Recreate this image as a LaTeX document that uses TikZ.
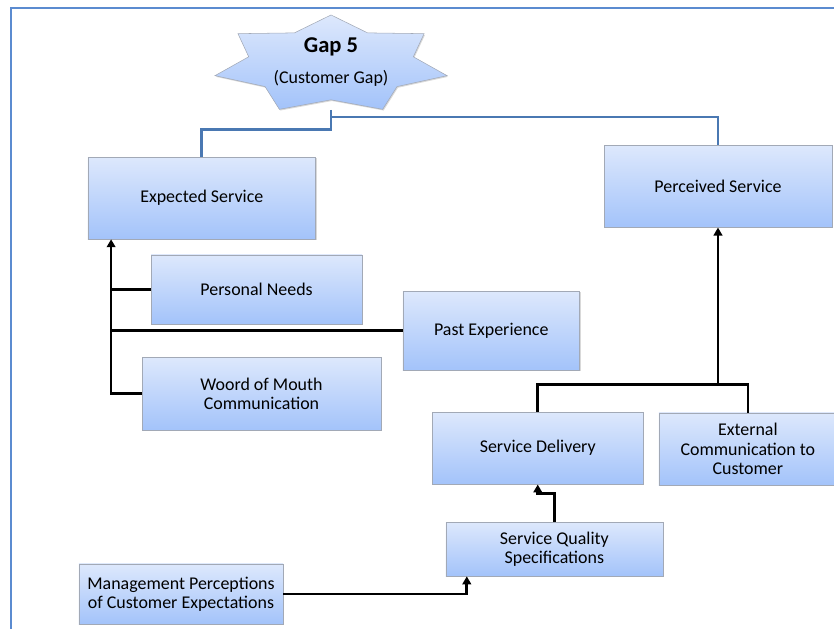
\documentclass[tikz,border=0pt]{standalone}
\usepackage{fontspec}
\setmainfont{Carlito}
\usetikzlibrary{arrows.meta, shapes.geometric, shadows, calc}

\definecolor{boxtop}{HTML}{DDE8FC}
\definecolor{boxbottom}{HTML}{A3C3FA}
\definecolor{boxline}{HTML}{A2A9B6}
\definecolor{gapblue}{HTML}{4A78B2}
\definecolor{frameblue}{HTML}{5B8BD0}

\begin{document}
\begin{tikzpicture}[every text node part/.style={align=center},
    font=\fontsize{13.5}{14.5}\selectfont]

\tikzstyle{box}=[draw=boxline, top color=boxtop, bottom color=boxbottom, inner sep=0pt,
    drop shadow={opacity=0.3, shadow xshift=0.7pt, shadow yshift=-0.9pt}]
\tikzstyle{line}=[draw, line width=2pt]
\tikzstyle{arr}=[draw, line width=2pt, -{Triangle[length=6pt, width=6.5pt]}]
\tikzstyle{gapline}=[draw=gapblue, line width=2pt]

\useasboundingbox (0, 0) rectangle (22.07, 16.62);
\clip (0, 0) rectangle (22.07, 16.62);
\draw [frameblue, line width=1.5pt] (0.29, -1) rectangle (23, 16.42);

% the gap star on top
\node (gapstar) [box, star, star points=7, star point ratio=1.41,
    minimum size=6.3cm, yscale=0.417] at (8.76, 14.91) {};
\node (gaptitle) at (8.76, 15.38) {\fontsize{17}{20}\selectfont\bfseries Gap 5};
\node (gapnote)  at (8.76, 14.54) {(Customer Gap)};

\node (expected)  [box, minimum width=6.03cm, minimum height=2.17cm] at (5.34, 11.38) {Expected Service};
\node (perceived) [box, minimum width=6.03cm, minimum height=2.17cm] at (19.00, 11.69) {Perceived Service};
\node (needs)     [box, minimum width=5.58cm, minimum height=1.83cm] at (6.79, 8.96) {Personal Needs};
\node (past)      [box, minimum width=4.68cm, minimum height=2.09cm] at (13.00, 7.87) {Past Experience};
\node (mouth)     [box, minimum width=6.32cm, minimum height=1.93cm] at (6.92, 6.20) {Woord of Mouth\\Communication};
\node (delivery)  [box, minimum width=5.56cm, minimum height=1.91cm] at (14.23, 4.76) {Service Delivery};
\node (external)  [box, minimum width=4.71cm, minimum height=1.91cm] at (19.79, 4.74) {External\\Communication to\\Customer};
\node (specs)     [box, minimum width=5.74cm, minimum height=1.43cm] at (14.67, 2.09) {Service Quality\\Specifications};
\node (mgmt)      [box, minimum width=5.40cm, minimum height=1.59cm] at (4.79, 0.90) {Management Perceptions\\of Customer Expectations};

% blue links from the star
\coordinate (gapfoot)  at (8.76, 13.71);
\coordinate (gapleft)  at (8.76, 13.20);
\coordinate (gapright) at (8.76, 13.52);
\path [gapline] (gapfoot) -- (gapleft) -| (expected.north);
\path [gapline] (gapright) -| (perceived.north);

% expected service side
\coordinate (trunk) at (2.94, 0);
\path [arr]  (mouth.west) -| (expected.south -| trunk);
\path [line] (needs.west) -- (needs.west -| trunk);
\path [line] (past.west)  -- (past.west -| trunk);

% perceived service side
\coordinate (join) at (19.00, 6.45);
\path [line] (delivery.north) |- (join) -| (external.north);
\path [arr]  (join) -- (perceived.south);
\path [arr]  (specs.north) |- ($ (delivery.south) + (0, -0.24) $) -- (delivery.south);
\path [arr]  (mgmt.east) -| ($ (specs.south west) + (0.56, 0) $);
\end{tikzpicture}
\end{document}
